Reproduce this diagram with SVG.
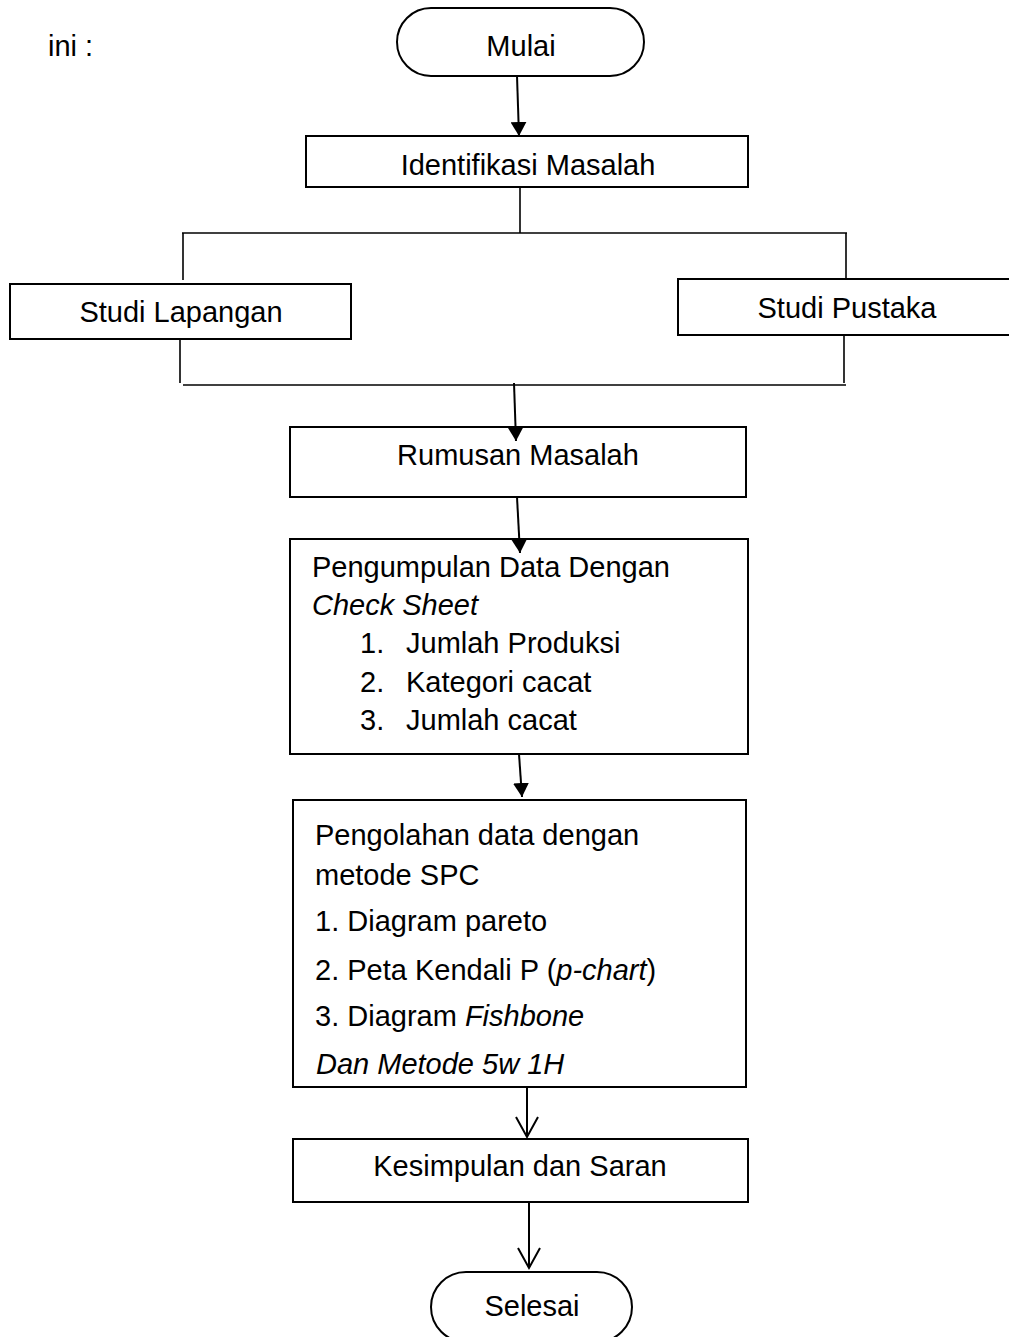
<svg xmlns="http://www.w3.org/2000/svg" width="1009" height="1337" viewBox="0 0 1009 1337">
<style>
.box{fill:#fff;stroke:#000;stroke-width:2}
.t{font-family:"Liberation Sans",Arial,sans-serif;font-size:29px;fill:#000}
.c{text-anchor:middle}
.i{font-style:italic}
.ln{stroke:#000;stroke-width:2;fill:none}
.br{stroke:#000;stroke-width:1.6;fill:none}
</style>
<defs>
<marker id="fa" markerUnits="userSpaceOnUse" markerWidth="16" markerHeight="16" refX="14" refY="8" orient="auto">
<path d="M0,0 L14,8 L0,16 Z" fill="#000"/>
</marker>
<marker id="oa" markerUnits="userSpaceOnUse" markerWidth="24" markerHeight="26" refX="21" refY="12" orient="auto">
<path d="M1,1 L21,12 L1,23" fill="none" stroke="#000" stroke-width="2"/>
</marker>
</defs>
<text class="t" x="48" y="56">ini :</text>
<g id="mulai">
<rect class="box" x="397" y="8" width="247" height="68" rx="34"/>
<text class="t c" x="521" y="56">Mulai</text>
</g>
<g id="identifikasi">
<rect class="box" x="306" y="136" width="442" height="51"/>
<text class="t c" x="528" y="175">Identifikasi Masalah</text>
</g>
<g id="studi-lapangan">
<rect class="box" x="10" y="284" width="341" height="55"/>
<text class="t c" x="181" y="322">Studi Lapangan</text>
</g>
<g id="studi-pustaka">
<rect class="box" x="678" y="279" width="340" height="56"/>
<text class="t c" x="847" y="318">Studi Pustaka</text>
</g>
<g id="rumusan">
<rect class="box" x="290" y="427" width="456" height="70"/>
<text class="t c" x="518" y="465">Rumusan Masalah</text>
</g>
<g id="pengumpulan">
<rect class="box" x="290" y="539" width="458" height="215"/>
<text class="t" x="312" y="577">Pengumpulan Data Dengan</text>
<text class="t i" x="312" y="615">Check Sheet</text>
<text class="t" x="360" y="653">1.</text><text class="t" x="406" y="653">Jumlah Produksi</text>
<text class="t" x="360" y="692">2.</text><text class="t" x="406" y="692">Kategori cacat</text>
<text class="t" x="360" y="730">3.</text><text class="t" x="406" y="730">Jumlah cacat</text>
</g>
<g id="pengolahan">
<rect class="box" x="293" y="800" width="453" height="287"/>
<text class="t" x="315" y="845">Pengolahan data dengan</text>
<text class="t" x="315" y="885">metode SPC</text>
<text class="t" x="315" y="931">1. Diagram pareto</text>
<text class="t" x="315" y="980">2. Peta Kendali P (<tspan class="i">p-chart</tspan>)</text>
<text class="t" x="315" y="1026">3. Diagram <tspan class="i">Fishbone</tspan></text>
<text class="t i" x="316" y="1074">Dan Metode 5w 1H</text>
</g>
<g id="kesimpulan">
<rect class="box" x="293" y="1139" width="455" height="63"/>
<text class="t c" x="520" y="1176">Kesimpulan dan Saran</text>
</g>
<g id="selesai">
<rect class="box" x="431" y="1272" width="201" height="70" rx="35"/>
<text class="t c" x="532" y="1316">Selesai</text>
</g>
<g id="connectors">
<line class="ln" x1="517" y1="76" x2="519" y2="136" marker-end="url(#fa)"/>
<line class="br" x1="520" y1="187" x2="520" y2="233"/>
<line class="br" x1="182" y1="233" x2="847" y2="233"/>
<line class="br" x1="183" y1="233" x2="183" y2="280"/>
<line class="br" x1="846" y1="233" x2="846" y2="279"/>
<line class="br" x1="180" y1="339" x2="180" y2="383"/>
<line class="br" x1="844" y1="335" x2="844" y2="383"/>
<line class="br" x1="183" y1="385" x2="846" y2="385"/>
<line class="ln" x1="514" y1="383" x2="516" y2="441" marker-end="url(#fa)"/>
<line class="ln" x1="517" y1="497" x2="520" y2="553" marker-end="url(#fa)"/>
<line class="ln" x1="519" y1="754" x2="522" y2="797" marker-end="url(#fa)"/>
<line class="ln" x1="527" y1="1087" x2="527" y2="1137" marker-end="url(#oa)"/>
<line class="ln" x1="529" y1="1202" x2="529" y2="1268" marker-end="url(#oa)"/>
</g>
</svg>
